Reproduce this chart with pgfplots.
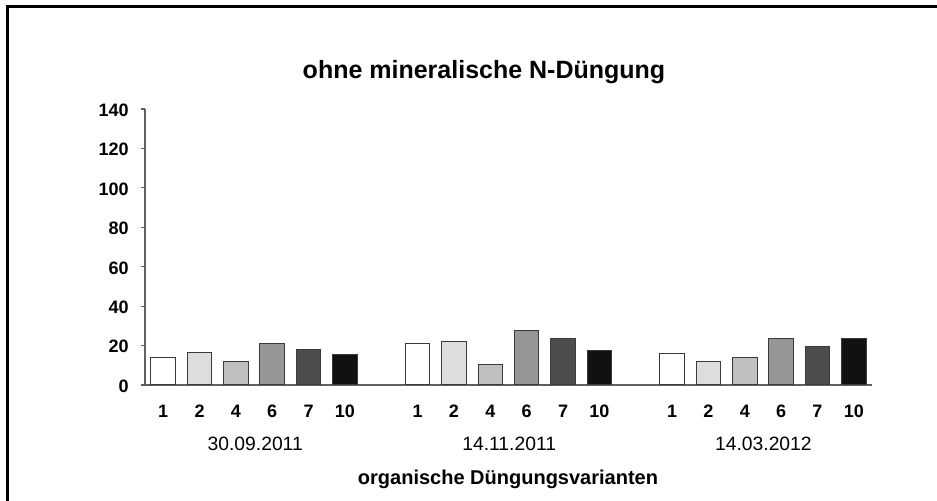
\documentclass[border=0pt]{standalone}
\usepackage{fontspec}
\setmainfont{Liberation Sans}
\usepackage{pgfplots}
\pgfplotsset{compat=1.18}
\definecolor{cA}{HTML}{FFFFFF}
\definecolor{cB}{HTML}{DDDDDD}
\definecolor{cC}{HTML}{C0C0C0}
\definecolor{cD}{HTML}{969696}
\definecolor{cE}{HTML}{4D4D4D}
\definecolor{cF}{HTML}{111111}
\definecolor{edge}{HTML}{3A3A3A}
\definecolor{axl}{HTML}{606060}
\begin{document}
\begin{tikzpicture}
\path[use as bounding box] (0pt,0pt) rectangle (468.5pt,250.5pt);
\begin{axis}[
  at={(72.5pt,58pt)}, anchor=south west,
  scale only axis, width=363.5pt, height=138pt,
  xmin=-0.5, xmax=19.5, ymin=0, ymax=140,
  ytick={0,20,...,140},
  xtick={0,1,2,3,4,5,7,8,9,10,11,12,14,15,16,17,18,19},
  xticklabels={1,2,4,6,7,10,1,2,4,6,7,10,1,2,4,6,7,10},
  axis x line*=bottom, axis y line*=left,
  axis line style={axl, line width=0.6pt},
  tick align=outside, major tick length=2.2pt,
  xtick style={draw=none},
  ytick style={axl, line width=0.6pt},
  /pgf/number format/assume math mode=true,
  ticklabel style={font=\bfseries\fontsize{9}{10}\selectfont, text=black},
  xticklabel style={anchor=base, yshift=-14.3pt},
  yticklabel style={anchor=east, inner sep=0pt, xshift=-5.8pt, yshift=-0.6pt},
  clip=false,
]
\addplot[ybar, bar width=12.25pt, bar shift=0pt, fill=cA, draw=edge, line width=0.5pt] coordinates {(0,14.1) (7,20.8) (14,16.0)};
\addplot[ybar, bar width=12.25pt, bar shift=0pt, fill=cB, draw=edge, line width=0.5pt] coordinates {(1,16.3) (8,22.0) (15,12.1)};
\addplot[ybar, bar width=12.25pt, bar shift=0pt, fill=cC, draw=edge, line width=0.5pt] coordinates {(2,11.9) (9,10.5) (16,14.1)};
\addplot[ybar, bar width=12.25pt, bar shift=0pt, fill=cD, draw=edge, line width=0.5pt] coordinates {(3,21.2) (10,27.6) (17,23.8)};
\addplot[ybar, bar width=12.25pt, bar shift=0pt, fill=cE, draw=edge, line width=0.5pt] coordinates {(4,17.8) (11,23.8) (18,19.7)};
\addplot[ybar, bar width=12.25pt, bar shift=0pt, fill=cF, draw=edge, line width=0.5pt] coordinates {(5,15.6) (12,17.6) (19,23.8)};
\end{axis}
\node[font=\bfseries\fontsize{12.5}{14}\selectfont, anchor=base] at (242pt,211pt) {ohne mineralische N-Düngung};
\node[font=\fontsize{9.65}{11}\selectfont, anchor=base] at (127.6pt,25.2pt) {30.09.2011};
\node[font=\fontsize{9.65}{11}\selectfont, anchor=base] at (254.6pt,25.2pt) {14.11.2011};
\node[font=\fontsize{9.65}{11}\selectfont, anchor=base] at (381.7pt,25.2pt) {14.03.2012};
\node[font=\bfseries\fontsize{10}{11}\selectfont, anchor=base] at (254pt,8pt) {organische Düngungsvarianten};
\draw[line width=1.6pt] (3pt,247.25pt) -- (468.5pt,247.25pt);
\draw[line width=1.6pt] (3.75pt,0pt) -- (3.75pt,248pt);
\end{tikzpicture}
\end{document}
